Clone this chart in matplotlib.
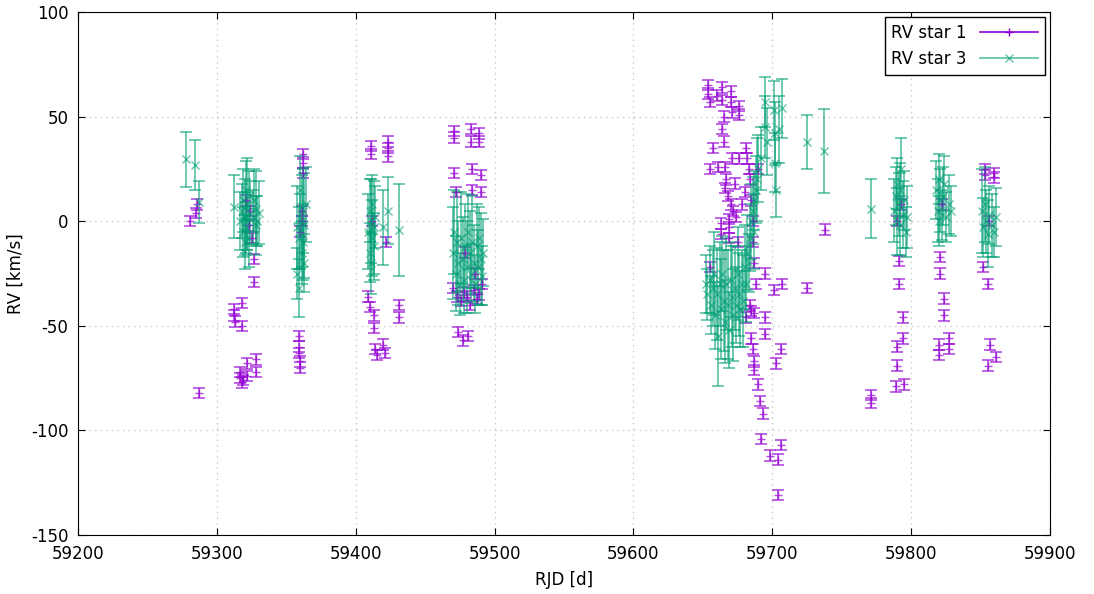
import matplotlib.pyplot as plt
import numpy as np

plt.rcParams['axes.unicode_minus'] = False

# RV star 1: (time, rv) per observing run, error ~2.5 km/s
s1_run1 = [(59281, 0), (59285, 4), (59286, 8), (59287, -82)]
s1_run2 = [(59312, -42), (59312, -45), (59313, -48), (59318, -39), (59318, -50),
           (59317, -72), (59317, -75), (59318, -77), (59319, -76), (59322, -68),
           (59322, -74), (59328, -66), (59328, -72), (59327, -18), (59327, -29),
           (59324, 5), (59323, -2), (59321, 10), (59325, -8)]
s1_run3 = [(59362, 32), (59362, 28), (59362, 23), (59359, -55), (59359, -60),
           (59359, -63), (59360, -67), (59360, -70), (59361, 0), (59361, 5), (59360, -5)]
s1_run4 = [(59411, 36), (59411, 32), (59423, 38), (59423, 35), (59423, 31),
           (59409, -36), (59410, -41), (59413, -45), (59413, -51), (59414, -61),
           (59415, -64), (59420, -59), (59421, -63), (59431, -40), (59431, -46),
           (59412, 0), (59422, -10)]
s1_run5 = [(59471, 43), (59471, 40), (59483, 44), (59483, 38), (59489, 42), (59489, 38),
           (59471, 23), (59472, 14), (59484, 25), (59484, 15), (59490, 22), (59490, 14),
           (59470, -32), (59473, -36), (59476, -38), (59478, -34), (59480, -36),
           (59482, -40), (59485, -33), (59487, -37), (59489, -35), (59491, -30),
           (59474, -53), (59477, -57), (59481, -55), (59479, -15), (59486, -25)]
s1_run6 = [(59654, 65), (59654, 61), (59655, 57), (59660, 60), (59664, 64), (59664, 58),
           (59665, 50), (59664, 44), (59665, 38), (59670, 62), (59670, 57), (59671, 52),
           (59676, 55), (59676, 51), (59657, 35), (59655, 25), (59661, 26), (59666, 26),
           (59671, 30), (59676, 30), (59681, 35), (59682, 30), (59683, 25),
           (59666, 16), (59668, 12), (59670, 8), (59672, 5), (59674, 2), (59669, 1),
           (59663, -1), (59663, -6), (59669, -3), (59669, -8), (59675, -10), (59655, -22),
           (59684, 20), (59685, 10), (59686, 0), (59686, -10), (59687, -20), (59688, -30),
           (59680, 14), (59690, 25), (59667, 20), (59673, 18), (59678, 8),
           (59695, -25), (59701, -33), (59707, -30), (59681, -46), (59684, -40),
           (59685, -43), (59687, -44), (59695, -46), (59695, -54), (59685, -56),
           (59686, -61), (59687, -67), (59687, -71), (59706, -61), (59703, -68),
           (59690, -78), (59691, -86), (59693, -92), (59692, -104), (59698, -112),
           (59704, -114), (59706, -107), (59704, -131), (59725, -32), (59738, -4)]
s1_run7 = [(59771, -83), (59771, -87), (59791, -19), (59791, -30), (59794, -46),
           (59794, -56), (59790, -60), (59790, -69), (59789, -79), (59795, -78),
           (59790, 0), (59793, 8)]
s1_run8 = [(59821, -17), (59821, -25), (59824, -37), (59824, -45), (59820, -59),
           (59820, -64), (59827, -56), (59827, -61), (59822, 8)]
s1_run9 = [(59853, 25), (59853, 22), (59860, 23), (59860, 21), (59852, -22),
           (59855, -30), (59857, -59), (59861, -65), (59855, -69), (59856, 0)]
s1_err = 2.5

# RV star 3: (time, rv, error)
s3_run1 = [(59278, 29.5, 13), (59284, 27, 12), (59287, 9, 10)]
s3_run2 = [(59312, 7, 15), (59317, 0, 14), (59318, 5, 13), (59319, -5, 12), (59319, 10, 15),
           (59320, 2, 18), (59320, -10, 13), (59321, 15, 14), (59321, -3, 12),
           (59322, 8, 22), (59322, 0, 14), (59323, 12, 12), (59323, -8, 14),
           (59324, 4, 15), (59326, 2, 13), (59327, 10, 15), (59328, -2, 14),
           (59328, 6, 18), (59329, 0, 12), (59330, 4, 15)]
s3_run3 = [(59358, -3, 20), (59359, -8, 15), (59359, -32, 14), (59360, 15, 16),
           (59360, -5, 18), (59361, 0, 22), (59361, -15, 15), (59362, 5, 20),
           (59362, -10, 18), (59363, -2, 25), (59363, -20, 14), (59364, 8, 18),
           (59358, -25, 12)]
s3_run4 = [(59409, -5, 18), (59410, 5, 15), (59410, -15, 14), (59411, 0, 20),
           (59411, -20, 15), (59412, -8, 18), (59412, 8, 14), (59413, -3, 22),
           (59413, -12, 16), (59414, 2, 15), (59420, -3, 18), (59423, 5, 16),
           (59431, -4, 22)]
s3_run5 = [(59470, -15, 22), (59471, -5, 20), (59472, -25, 18), (59473, -10, 24),
           (59474, -20, 20), (59475, -30, 15), (59476, -8, 22), (59477, -18, 20),
           (59478, -28, 16), (59479, -12, 20), (59480, -22, 22), (59481, -5, 18),
           (59482, -15, 20), (59483, -25, 14), (59484, -10, 22), (59485, -20, 18),
           (59486, -30, 14), (59487, -12, 20), (59488, -22, 18), (59489, -8, 15),
           (59490, -18, 22), (59491, -26, 14), (59492, -15, 16)]
s3_run6 = [(59652, -30, 14), (59653, -35, 12), (59655, -28, 16), (59656, -40, 14),
           (59657, -32, 18), (59658, -25, 20), (59659, -45, 16), (59660, -35, 22),
           (59661, -55, 24), (59662, -30, 20), (59663, -42, 24), (59664, -25, 18),
           (59665, -38, 24), (59666, -48, 20), (59667, -30, 22), (59668, -40, 26),
           (59669, -52, 18), (59670, -28, 18), (59671, -36, 24), (59672, -45, 22),
           (59673, -32, 20), (59674, -40, 18), (59675, -25, 22), (59676, -35, 20),
           (59677, -42, 18), (59678, -30, 16), (59679, -38, 22), (59680, -22, 20),
           (59681, -30, 18), (59682, -15, 18), (59683, -20, 14), (59684, -8, 16),
           (59685, 0, 18), (59686, 5, 16), (59687, -5, 18), (59687, 10, 14),
           (59688, 15, 16), (59689, 20, 20), (59690, 25, 16), (59692, 30, 15),
           (59695, 57, 12), (59695, 45, 15), (59696, 38, 16), (59701, 53, 14),
           (59702, 42, 15), (59702, 28, 14), (59703, 15, 13), (59707, 54, 14),
           (59705, 44, 16), (59725, 38, 13), (59737, 33.5, 20)]
s3_run7 = [(59771, 6, 14), (59788, 5, 15), (59789, 12, 14), (59790, 0, 16),
           (59790, 18, 12), (59791, 8, 15), (59792, -2, 14), (59792, 15, 13),
           (59793, 25, 15), (59794, 3, 16), (59795, 10, 14), (59796, -5, 12),
           (59797, 2, 15)]
s3_run8 = [(59818, 15, 14), (59819, 5, 15), (59820, 20, 12), (59820, 0, 12),
           (59821, 10, 15), (59822, 3, 12), (59823, 12, 14), (59824, 18, 13),
           (59825, 2, 12), (59827, 8, 14), (59829, 5, 12)]
s3_run9 = [(59851, 5, 20), (59852, -3, 14), (59853, 8, 18), (59854, 0, 15),
           (59855, -6, 16), (59856, 3, 14), (59858, -2, 15), (59860, -5, 12),
           (59861, 2, 14)]

s1 = np.array(s1_run1 + s1_run2 + s1_run3 + s1_run4 + s1_run5 + s1_run6
              + s1_run7 + s1_run8 + s1_run9, dtype=float)
s3 = np.array(s3_run1 + s3_run2 + s3_run3 + s3_run4 + s3_run5 + s3_run6
              + s3_run7 + s3_run8 + s3_run9, dtype=float)

purple = '#9400d3'
green = '#009e73'

fig = plt.figure(figsize=(10.94, 5.94), dpi=100)
ax = fig.add_axes([0.0713, 0.0993, 0.8885, 0.8805])

ax.errorbar(s1[:, 0], s1[:, 1], yerr=s1_err, fmt='+', color=purple, ms=6,
            elinewidth=1.2, capsize=4, capthick=1.2, alpha=0.7)
ax.errorbar(s3[:, 0], s3[:, 1], yerr=s3[:, 2], fmt='x', color=green, ms=6,
            elinewidth=1.3, capsize=4, capthick=1.3, alpha=0.6)

ax.set_xlim(59200, 59900)
ax.set_ylim(-150, 100)
ax.set_xticks(np.arange(59200, 59901, 100))
ax.set_yticks(np.arange(-150, 101, 50))
ax.grid(True, color='#c8c8c8', linestyle=(0, (1, 3)), linewidth=1)
ax.tick_params(direction='in', top=True, right=True, labelsize=12, length=5)
ax.tick_params(axis='x', pad=7)
ax.tick_params(axis='y', pad=7)
ax.set_xlabel('RJD [d]', fontsize=12, labelpad=6)
ax.set_ylabel('RV [km/s]', fontsize=12, labelpad=4)

h1 = plt.Line2D([], [], color=purple, marker='+', ms=6, lw=1.2)
h3 = plt.Line2D([], [], color=green, marker='x', ms=6, lw=1.3, alpha=0.6)
leg = ax.legend([h1, h3], ['RV star 1', 'RV star 3'], loc='upper right',
                fontsize=12, markerfirst=False, fancybox=False, framealpha=1,
                edgecolor='black', handlelength=3.5, borderaxespad=0.3)
leg.get_frame().set_linewidth(1)

fig.savefig('out.png', dpi=100)
